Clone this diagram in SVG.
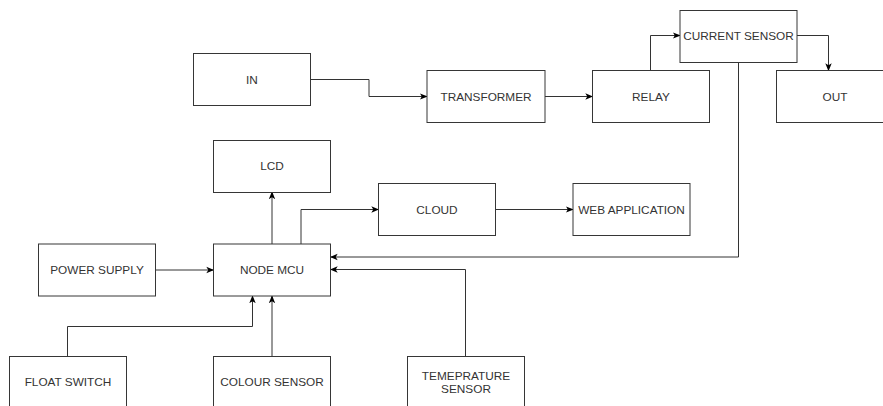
<svg xmlns="http://www.w3.org/2000/svg" width="883" height="406" viewBox="0 0 883 406">
<style>
.box{fill:#fff;stroke:#363636;stroke-width:1}
.lbl{font-family:"Liberation Sans",Arial,sans-serif;font-size:11.8px;fill:#333;text-anchor:middle;dominant-baseline:central}
.ln{fill:none;stroke:#333;stroke-width:1}
</style>
<defs>
<marker id="ah" viewBox="0 0 10 10" refX="9" refY="5" markerWidth="8" markerHeight="8" markerUnits="userSpaceOnUse" orient="auto">
<path d="M0,1 L10,5 L0,9 L2.5,5 Z" fill="#000"/>
</marker>
</defs>
<rect width="883" height="406" fill="#fff"/>
<g id="connectors">
<path class="ln" marker-end="url(#ah)" d="M310.5,79.5 H369 V96.5 H427"/>
<path class="ln" marker-end="url(#ah)" d="M545,96.5 H592.5"/>
<path class="ln" marker-end="url(#ah)" d="M650.5,71 V35.5 H680"/>
<path class="ln" marker-end="url(#ah)" d="M797,35.5 H828.5 V70.5"/>
<path class="ln" marker-end="url(#ah)" d="M738.5,62 V257 H330.5"/>
<path class="ln" marker-end="url(#ah)" d="M155.5,270 H213.5"/>
<path class="ln" marker-end="url(#ah)" d="M272,244 V192"/>
<path class="ln" marker-end="url(#ah)" d="M301,244 V209.5 H378.5"/>
<path class="ln" marker-end="url(#ah)" d="M495.5,209.5 H573"/>
<path class="ln" marker-end="url(#ah)" d="M465.5,356 V269.5 H330.5"/>
<path class="ln" marker-end="url(#ah)" d="M67.5,356 V326.5 H252.5 V296"/>
<path class="ln" marker-end="url(#ah)" d="M272,356 V296"/>
</g>
<g id="in"><rect class="box" x="193.5" y="53.5" width="117" height="52"/><text class="lbl" x="252" y="79.5">IN</text></g>
<g id="transformer"><rect class="box" x="427" y="70.5" width="118" height="52"/><text class="lbl" x="486" y="96.5">TRANSFORMER</text></g>
<g id="relay"><rect class="box" x="592.5" y="70.5" width="117" height="52"/><text class="lbl" x="651" y="96.5">RELAY</text></g>
<g id="current-sensor"><rect class="box" x="680" y="10.5" width="117" height="52"/><text class="lbl" x="738.5" y="36">CURRENT SENSOR</text></g>
<g id="out"><rect class="box" x="776.5" y="70.5" width="117" height="52"/><text class="lbl" x="835" y="96.5">OUT</text></g>
<g id="lcd"><rect class="box" x="213.5" y="140.5" width="117" height="52"/><text class="lbl" x="272" y="166">LCD</text></g>
<g id="cloud"><rect class="box" x="378.5" y="183.5" width="117" height="52"/><text class="lbl" x="437" y="209.5">CLOUD</text></g>
<g id="web-application"><rect class="box" x="573" y="183.5" width="117" height="52"/><text class="lbl" x="631.5" y="209.5">WEB APPLICATION</text></g>
<g id="power-supply"><rect class="box" x="38.5" y="244" width="117" height="52"/><text class="lbl" x="97" y="270">POWER SUPPLY</text></g>
<g id="node-mcu"><rect class="box" x="213.5" y="244" width="117" height="52"/><text class="lbl" x="272" y="270">NODE MCU</text></g>
<g id="float-switch"><rect class="box" x="9.5" y="356.5" width="117" height="52"/><text class="lbl" x="68" y="382">FLOAT SWITCH</text></g>
<g id="colour-sensor"><rect class="box" x="213.5" y="356.5" width="117" height="52"/><text class="lbl" x="272" y="382">COLOUR SENSOR</text></g>
<g id="temperature-sensor"><rect class="box" x="407.5" y="356.5" width="117" height="52"/><text class="lbl" x="466" y="376">TEMEPRATURE</text><text class="lbl" x="466" y="389">SENSOR</text></g>
</svg>
